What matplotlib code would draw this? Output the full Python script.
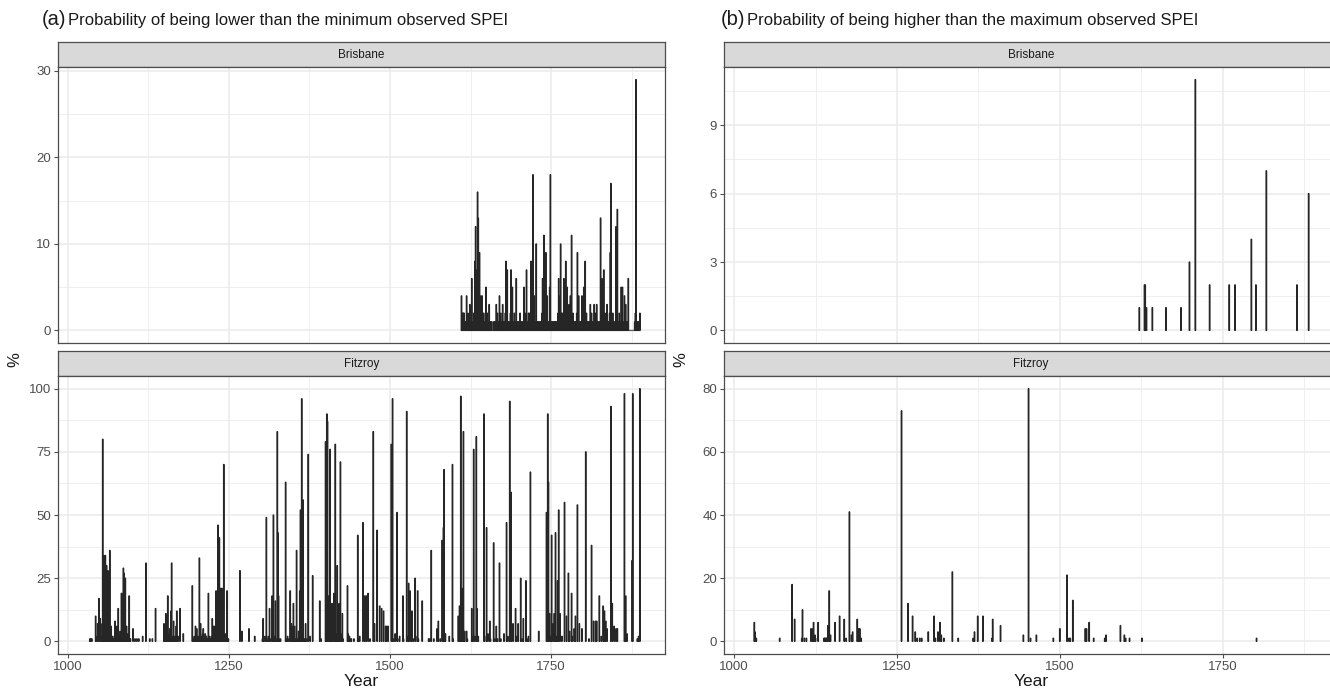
import matplotlib
matplotlib.use('Agg')
import matplotlib.pyplot as plt
from matplotlib.ticker import FixedLocator

plt.rcParams['font.family'] = ['Liberation Sans', 'DejaVu Sans']

# ---------------- data ----------------
# (a) Brisbane: probability (%) of being lower than the minimum observed SPEI
bris_low_years = list(range(1611, 1889))
bris_low_vals = [
    4, 2, 2, 2, 2, 1, 1, 1, 4, 1,
    2, 1, 1, 3, 1, 1, 6, 1, 1, 2,
    1, 8, 12, 5, 7, 16, 13, 4, 9, 2,
    4, 1, 4, 1, 2, 1, 1, 2, 5, 1,
    2, 1, 1, 3, 1, 1, 1, 1, 0, 0,
    1, 1, 1, 1, 3, 1, 2, 1, 1, 4,
    1, 2, 1, 1, 3, 1, 1, 1, 2, 8,
    1, 7, 1, 1, 1, 1, 2, 7, 1, 5,
    1, 1, 2, 1, 1, 6, 1, 1, 1, 1,
    1, 2, 1, 1, 1, 1, 1, 5, 1, 1,
    2, 7, 1, 1, 2, 1, 2, 1, 8, 2,
    4, 18, 1, 4, 1, 1, 10, 1, 1, 1,
    1, 1, 1, 1, 1, 2, 6, 4, 11, 5,
    7, 9, 2, 4, 1, 1, 1, 5, 18, 1,
    1, 1, 1, 1, 1, 1, 1, 1, 1, 1,
    2, 6, 1, 4, 10, 2, 1, 2, 1, 6,
    2, 1, 8, 1, 5, 2, 1, 3, 1, 4,
    1, 11, 1, 2, 1, 1, 1, 1, 1, 2,
    9, 1, 4, 1, 1, 1, 1, 4, 1, 1,
    5, 1, 8, 1, 2, 1, 1, 1, 1, 1,
    3, 1, 2, 1, 1, 1, 3, 1, 2, 1,
    3, 1, 1, 1, 1, 1, 13, 1, 6, 1,
    1, 7, 1, 2, 1, 1, 3, 1, 1, 1,
    2, 9, 17, 1, 1, 2, 1, 1, 1, 1,
    12, 1, 14, 1, 1, 2, 1, 1, 5, 1,
    5, 1, 1, 4, 1, 3, 1, 1, 1, 6,
    0, 0, 0, 0, 0, 0, 0, 0, 0, 1,
    2, 29, 1, 1, 1, 1, 1, 2,
]

# (a) Fitzroy
fitz_low_years = [
    1034, 1035, 1036, 1037, 1043, 1045, 1046, 1048, 1050, 1051, 1052, 1054, 1055, 1056, 1057,
    1058, 1059, 1060, 1061, 1062, 1063, 1064, 1065, 1066, 1067, 1068, 1069, 1070, 1071, 1072,
    1073, 1074, 1075, 1076, 1077, 1078, 1079, 1080, 1081, 1082, 1083, 1084, 1085, 1086, 1087,
    1088, 1089, 1090, 1091, 1092, 1093, 1094, 1095, 1096, 1097, 1101, 1104, 1107, 1110, 1116,
    1121, 1127, 1131, 1136, 1149, 1150, 1151, 1152, 1153, 1155, 1156, 1157, 1158, 1159, 1160,
    1161, 1162, 1163, 1164, 1165, 1166, 1167, 1168, 1169, 1170, 1171, 1174, 1179, 1193, 1195,
    1196, 1198, 1199, 1200, 1201, 1202, 1203, 1204, 1205, 1206, 1207, 1208, 1209, 1210, 1211,
    1212, 1213, 1214, 1215, 1216, 1217, 1218, 1219, 1220, 1221, 1222, 1223, 1224, 1225, 1226,
    1227, 1228, 1229, 1230, 1231, 1232, 1233, 1234, 1235, 1236, 1237, 1238, 1239, 1240, 1241,
    1242, 1243, 1244, 1245, 1246, 1247, 1248, 1249, 1267, 1270, 1281, 1290, 1302, 1303, 1304,
    1306, 1308, 1309, 1311, 1313, 1315, 1317, 1318, 1319, 1320, 1322, 1323, 1325, 1326, 1327,
    1328, 1330, 1338, 1339, 1341, 1343, 1345, 1346, 1347, 1348, 1349, 1350, 1351, 1352, 1353,
    1355, 1356, 1358, 1359, 1360, 1361, 1363, 1364, 1365, 1366, 1367, 1369, 1371, 1373, 1376,
    1380, 1391, 1393, 1400, 1401, 1402, 1403, 1404, 1405, 1406, 1407, 1408, 1409, 1410, 1411,
    1413, 1414, 1415, 1416, 1417, 1418, 1419, 1420, 1421, 1422, 1423, 1424, 1425, 1426, 1427,
    1434, 1435, 1437, 1439, 1440, 1444, 1450, 1451, 1453, 1458, 1461, 1463, 1466, 1469, 1474,
    1476, 1480, 1484, 1487, 1490, 1493, 1495, 1497, 1502, 1504, 1506, 1508, 1511, 1512, 1515,
    1520, 1521, 1526, 1528, 1529, 1531, 1533, 1534, 1536, 1539, 1540, 1543, 1544, 1550, 1560,
    1562, 1564, 1568, 1573, 1575, 1578, 1581, 1583, 1584, 1585, 1586, 1592, 1597, 1598, 1606,
    1608, 1610, 1611, 1612, 1613, 1614, 1616, 1619, 1620, 1627, 1628, 1630, 1632, 1634, 1635,
    1637, 1646, 1647, 1650, 1652, 1655, 1656, 1661, 1663, 1665, 1667, 1670, 1672, 1677, 1681,
    1683, 1686, 1688, 1689, 1691, 1695, 1697, 1699, 1703, 1705, 1707, 1711, 1713, 1715, 1718,
    1731, 1743, 1744, 1745, 1746, 1748, 1749, 1751, 1753, 1755, 1757, 1758, 1760, 1762, 1764,
    1767, 1771, 1774, 1777, 1779, 1782, 1783, 1786, 1788, 1791, 1794, 1798, 1804, 1809, 1813,
    1816, 1819, 1821, 1825, 1828, 1831, 1833, 1835, 1837, 1843, 1845, 1848, 1851, 1853, 1864,
    1866, 1868, 1876, 1877, 1884, 1885, 1886, 1888,
]
fitz_low_vals = [
    1, 1, 1, 1, 10, 2, 7, 17, 9, 7, 2, 80, 5, 34, 3,
    34, 5, 30, 2, 28, 24, 2, 36, 2, 6, 1, 2, 1, 1, 2,
    8, 3, 1, 6, 2, 13, 1, 2, 4, 1, 19, 19, 5, 29, 27,
    6, 25, 3, 6, 1, 3, 1, 18, 1, 1, 5, 1, 1, 1, 2,
    31, 1, 1, 13, 7, 2, 1, 11, 3, 18, 1, 3, 5, 1, 12,
    31, 1, 2, 8, 1, 2, 1, 6, 12, 1, 2, 13, 3, 22, 1,
    2, 6, 2, 5, 1, 2, 1, 33, 2, 7, 1, 2, 3, 5, 1,
    1, 3, 1, 2, 1, 1, 19, 1, 2, 1, 1, 2, 9, 2, 6,
    1, 6, 2, 20, 3, 1, 46, 4, 41, 3, 21, 2, 21, 4, 2,
    70, 2, 3, 2, 1, 20, 1, 1, 28, 4, 5, 2, 1, 9, 1,
    2, 49, 1, 2, 13, 1, 18, 1, 50, 2, 16, 1, 83, 43, 18,
    1, 1, 63, 1, 2, 1, 20, 2, 7, 6, 4, 15, 3, 6, 1,
    36, 1, 4, 1, 20, 52, 96, 3, 56, 1, 1, 7, 1, 74, 2,
    26, 16, 1, 79, 3, 90, 87, 2, 18, 2, 76, 1, 3, 15, 2,
    19, 1, 78, 2, 3, 30, 2, 4, 15, 1, 71, 3, 1, 11, 1,
    22, 3, 2, 1, 1, 1, 42, 1, 2, 47, 18, 18, 19, 1, 83,
    7, 44, 14, 13, 12, 6, 6, 6, 78, 96, 1, 3, 51, 1, 2,
    18, 1, 91, 2, 23, 20, 1, 12, 1, 25, 2, 20, 1, 16, 1,
    1, 36, 1, 5, 8, 1, 40, 45, 68, 2, 3, 2, 70, 1, 10,
    14, 97, 2, 21, 3, 83, 4, 4, 1, 13, 2, 76, 2, 81, 13,
    2, 90, 2, 45, 3, 8, 1, 39, 1, 6, 1, 31, 1, 3, 47,
    2, 95, 59, 3, 7, 13, 2, 7, 25, 1, 9, 24, 1, 2, 67,
    4, 51, 3, 90, 63, 11, 2, 42, 7, 11, 43, 2, 24, 52, 11,
    2, 55, 10, 27, 4, 19, 2, 5, 10, 54, 7, 5, 75, 1, 38,
    8, 8, 8, 18, 2, 14, 12, 8, 5, 93, 15, 6, 5, 5, 98,
    18, 3, 32, 98, 1, 1, 2, 100,
]

# (b) Brisbane: probability (%) of being higher than the maximum observed SPEI
bris_high_years = [1622, 1630, 1631, 1633, 1642, 1663, 1686, 1699, 1708, 1730,
                   1760, 1769, 1794, 1801, 1817, 1864, 1882]
bris_high_vals = [1, 2, 2, 1, 1, 1, 1, 3, 11, 2,
                  2, 2, 4, 2, 7, 2, 6]

# (b) Fitzroy
fitz_high_years = [
    1031, 1032, 1033, 1034, 1070, 1089, 1093, 1104, 1105, 1108, 1111, 1118, 1120, 1122, 1124,
    1125, 1129, 1138, 1139, 1140, 1141, 1142, 1143, 1144, 1146, 1148, 1155, 1162, 1169, 1172,
    1177, 1180, 1182, 1189, 1191, 1193, 1195, 1257, 1267, 1274, 1278, 1281, 1285, 1288, 1298,
    1307, 1309, 1313, 1316, 1318, 1322, 1335, 1344, 1367, 1369, 1374, 1382, 1396, 1397, 1409,
    1444, 1452, 1455, 1464, 1490, 1500, 1511, 1514, 1516, 1520, 1539, 1541, 1545, 1552, 1569,
    1571, 1593, 1599, 1601, 1607, 1626, 1802,
]
fitz_high_vals = [
    6, 3, 1, 1, 1, 18, 7, 1, 10, 1, 1, 4, 4, 6, 2,
    1, 6, 1, 1, 1, 1, 1, 1, 5, 16, 2, 6, 8, 7, 1,
    41, 2, 3, 7, 4, 4, 1, 73, 12, 8, 3, 1, 1, 1, 3,
    8, 1, 3, 6, 2, 1, 22, 1, 1, 3, 8, 8, 1, 7, 5,
    2, 80, 1, 2, 1, 4, 21, 1, 1, 13, 4, 4, 6, 1, 1,
    2, 5, 2, 1, 1, 1, 1,
]

x_ticks = [1000, 1250, 1500, 1750]
strip_names = ["Brisbane", "Fitzroy"]
titles = [("(a)", "Probability of being lower than the minimum observed SPEI"),
          ("(b)", "Probability of being higher than the maximum observed SPEI")]

# ---------------- layout ----------------
W, H = 1330, 692
fig = plt.figure(figsize=(W / 100, H / 100), dpi=100)


def add_px(x0, y0, x1, y1):
    return fig.add_axes([x0 / W, 1 - y1 / H, (x1 - x0) / W, (y1 - y0) / H])


XLIM = (984.5, 1927)
BORDER = '#4D4D4D'
GRID = '#EBEBEB'


def style_panel(ax, yticks, ylim, bottom):
    ax.set_xlim(*XLIM)
    ax.set_ylim(*ylim)
    ax.set_facecolor('white')
    ax.set_axisbelow(True)
    ax.xaxis.set_major_locator(FixedLocator(x_ticks))
    minors_x = [x_ticks[i] + 125 for i in range(len(x_ticks))]
    ax.xaxis.set_minor_locator(FixedLocator(minors_x))
    ax.yaxis.set_major_locator(FixedLocator(yticks))
    step = yticks[1] - yticks[0]
    ax.yaxis.set_minor_locator(FixedLocator([t + step / 2 for t in yticks]))
    ax.grid(which='major', color=GRID, lw=1.1)
    ax.grid(which='minor', color=GRID, lw=0.55)
    for s in ax.spines.values():
        s.set_color(BORDER)
        s.set_linewidth(0.9)
    ax.tick_params(axis='y', which='major', length=3, width=0.8, color=BORDER,
                   labelsize=9.5, labelcolor='#4D4D4D', pad=2)
    ax.tick_params(axis='both', which='minor', length=0)
    if bottom:
        ax.tick_params(axis='x', which='major', length=3, width=0.8, color=BORDER,
                       labelsize=9.5, labelcolor='#4D4D4D', pad=2)
    else:
        ax.tick_params(axis='x', which='major', length=0, labelbottom=False)


def strip(x0, y0, x1, y1, label):
    s = add_px(x0, y0, x1, y1)
    s.set_facecolor('#D9D9D9')
    s.set_xticks([])
    s.set_yticks([])
    for sp in s.spines.values():
        sp.set_color(BORDER)
        sp.set_linewidth(0.9)
    s.text(0.5, 0.47, label, ha='center', va='center', fontsize=8.5,
           color='#1A1A1A', transform=s.transAxes)


def bars(ax, years, vals):
    cont = ax.bar(years, vals, width=0.9, color='#262626', edgecolor='#262626',
                  linewidth=0.9, zorder=3)
    for p in cont.patches:
        p.set_snap(False)


cols = [(58, 665), (724, 1338)]
top_strip = (42, 67)
top_panel = (67, 343)
bot_strip = (351, 376)
bot_panel = (376, 654)

panel_data = [
    [(bris_low_years, bris_low_vals, [0, 10, 20, 30], (-1.45, 30.45)),
     (fitz_low_years, fitz_low_vals, [0, 25, 50, 75, 100], (-5, 105))],
    [(bris_high_years, bris_high_vals, [0, 3, 6, 9], (-0.55, 11.55)),
     (fitz_high_years, fitz_high_vals, [0, 20, 40, 60, 80], (-4, 84))],
]

for c, (x0, x1) in enumerate(cols):
    strip(x0, top_strip[0], x1, top_strip[1], strip_names[0])
    ax_t = add_px(x0, top_panel[0], x1, top_panel[1])
    yrs, vals, yt, yl = panel_data[c][0]
    style_panel(ax_t, yt, yl, bottom=False)
    bars(ax_t, yrs, vals)

    strip(x0, bot_strip[0], x1, bot_strip[1], strip_names[1])
    ax_b = add_px(x0, bot_panel[0], x1, bot_panel[1])
    yrs, vals, yt, yl = panel_data[c][1]
    style_panel(ax_b, yt, yl, bottom=True)
    bars(ax_b, yrs, vals)

    # axis titles
    xc = (x0 + min(x1, 1338)) / 2
    fig.text(xc / W, 1 - 682 / H, "Year", ha='center', va='center', fontsize=12.5,
             color='#1A1A1A')
    fig.text((x0 - 43) / W, 1 - 360 / H, "%", ha='center', va='center', rotation=90,
             fontsize=12, color='#1A1A1A')

# panel titles
title_x = [42, 721]
for c, (tag, txt) in enumerate(titles):
    t1 = fig.text(title_x[c] / W, 1 - 25 / H, tag, ha='left', va='baseline',
                  fontsize=14.5, color='#1A1A1A')
    fig.canvas.draw()
    bb = t1.get_window_extent()
    fig.text((bb.x1 + 2) / W, 1 - 25 / H, txt, ha='left', va='baseline',
             fontsize=12.0, color='#1A1A1A')

fig.savefig("out.png", dpi=100)
